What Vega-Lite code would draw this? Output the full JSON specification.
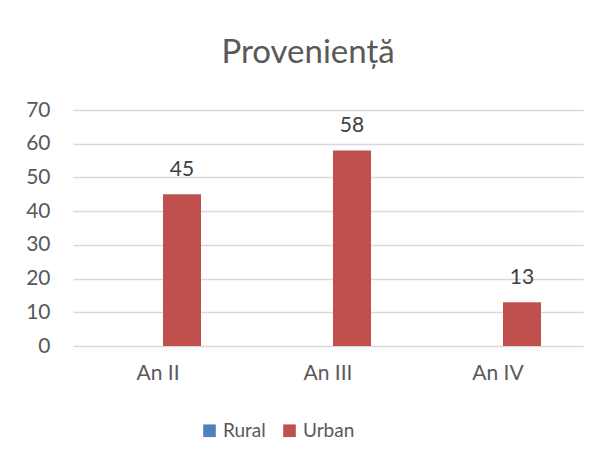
{
  "$schema": "https://vega.github.io/schema/vega-lite/v6.json",
  "width": 510,
  "height": 236,
  "autosize": {"type": "none"},
  "padding": {"left": 73, "top": 110, "right": 16, "bottom": 113},
  "background": "white",
  "config": {
    "font": "Lato",
    "view": {"stroke": null},
    "axis": {"labelFont": "Lato", "labelColor": "#595959", "labelFontSize": 21}
  },
  "title": {
    "text": "Proveniență",
    "fontSize": 33,
    "font": "Lato",
    "fontWeight": "normal",
    "color": "#595959",
    "anchor": "middle",
    "dx": -20,
    "offset": 29
  },
  "data": {
    "values": [
      {"an": "An II", "tip": "Rural", "valoare": 0},
      {"an": "An II", "tip": "Urban", "valoare": 45},
      {"an": "An III", "tip": "Rural", "valoare": 0},
      {"an": "An III", "tip": "Urban", "valoare": 58},
      {"an": "An IV", "tip": "Rural", "valoare": 0},
      {"an": "An IV", "tip": "Urban", "valoare": 13}
    ]
  },
  "encoding": {
    "x": {
      "field": "an",
      "type": "nominal",
      "sort": ["An II", "An III", "An IV"],
      "scale": {"paddingInner": 0.494, "paddingOuter": 0.247},
      "axis": {"title": null, "labelAngle": 0, "ticks": false, "domain": false, "labelPadding": 16, "grid": false}
    },
    "xOffset": {
      "field": "tip",
      "type": "nominal",
      "scale": {"domain": ["Rural", "Urban"], "paddingInner": 0.208, "paddingOuter": 0}
    },
    "y": {
      "field": "valoare",
      "type": "quantitative",
      "scale": {"domain": [0, 70], "nice": false},
      "axis": {"title": null, "values": [0, 10, 20, 30, 40, 50, 60, 70], "ticks": false, "domain": false, "labelPadding": 23, "gridColor": "#D9D9D9", "gridWidth": 1.3}
    }
  },
  "layer": [
    {
      "mark": {"type": "bar"},
      "encoding": {
        "color": {
          "field": "tip",
          "type": "nominal",
          "scale": {"domain": ["Rural", "Urban"], "range": ["#4F81BD", "#C0504D"]},
          "legend": {
            "title": null,
            "orient": "none",
            "direction": "horizontal",
            "legendX": 127,
            "legendY": 311,
            "symbolType": "square",
            "symbolSize": 160,
            "symbolStrokeWidth": 0,
            "labelFontSize": 19,
            "labelFont": "Lato",
            "labelColor": "#595959",
            "labelOffset": 4,
            "columnPadding": 14
          }
        }
      }
    },
    {
      "transform": [{"filter": "datum.valoare > 0"}],
      "mark": {"type": "text", "baseline": "bottom", "dy": -14, "fontSize": 21, "color": "#404040", "font": "Lato"},
      "encoding": {"text": {"field": "valoare", "type": "quantitative"}}
    }
  ]
}
